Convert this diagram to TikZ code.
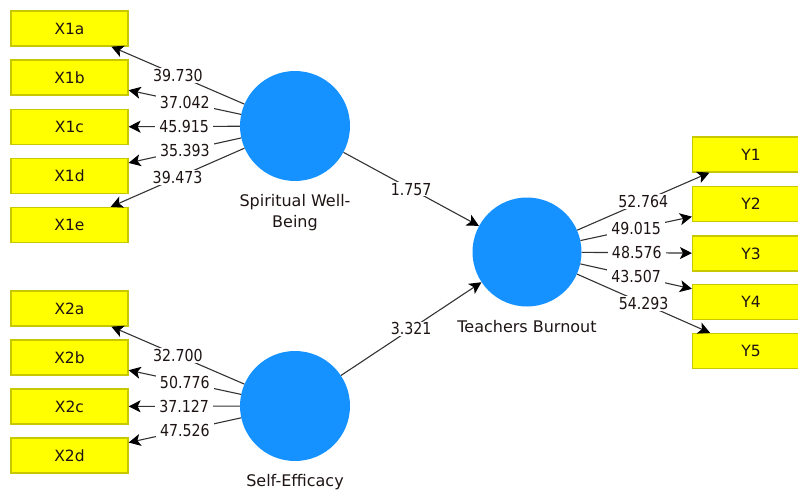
\documentclass[tikz,border=0pt]{standalone}
\usepackage{fontspec}
\setmainfont{DejaVu Sans}
\newfontfamily\numfont[FakeStretch=0.86]{DejaVu Sans}
\usetikzlibrary{arrows.meta}
\definecolor{boxfill}{HTML}{FFFF00}
\definecolor{boxline}{HTML}{C8C800}
\definecolor{circfill}{HTML}{1592FF}
\definecolor{linecol}{HTML}{333333}
\definecolor{txtcol}{HTML}{1E1414}
\tikzset{
  indbox/.style={draw=boxline, fill=boxfill, line width=1.2pt, minimum width=117pt, minimum height=35pt, inner sep=0pt, font=\fontsize{15.5}{18}\selectfont, text=txtcol},
  latent/.style={circle, fill=circfill, draw=none, inner sep=0pt},
  latlbl/.style={font=\fontsize{16}{21}\selectfont, text=txtcol, align=center, inner sep=0pt},
  conn/.style={draw=linecol, line width=1.1pt, -{Stealth[length=12pt,width=12pt,inset=3pt,color=black]}},
  num/.style={fill=white, font=\numfont\fontsize{16.5}{18}\selectfont, text=txtcol, inner xsep=4pt, inner ysep=1pt, midway}
}
\begin{document}
\begin{tikzpicture}[x=1pt,y=-1pt]
\useasboundingbox (0,0) rectangle (798,492);
\begin{scope}
\clip (0,0) rectangle (798,492);
% indicator boxes
\node[indbox] (X1a) at (69.5,28.5) {X1a};
\node[indbox] (X1b) at (69.5,77.5) {X1b};
\node[indbox] (X1c) at (69.5,127) {X1c};
\node[indbox] (X1d) at (69.5,176) {X1d};
\node[indbox] (X1e) at (69.5,225) {X1e};
\node[indbox] (X2a) at (69.5,308.5) {X2a};
\node[indbox] (X2b) at (69.5,357.5) {X2b};
\node[indbox] (X2c) at (69.5,406.5) {X2c};
\node[indbox] (X2d) at (69.5,455.5) {X2d};
\node[indbox] (Y1) at (751,154.5) {Y1};
\node[indbox] (Y2) at (751,204) {Y2};
\node[indbox] (Y3) at (751,253.5) {Y3};
\node[indbox] (Y4) at (751,302) {Y4};
\node[indbox] (Y5) at (751,351) {Y5};
% latent variables
\node[latent, minimum size=110pt] (SWB) at (295,126) {};
\node[latent, minimum size=110pt] (SE) at (295,406) {};
\node[latent, minimum size=109pt] (TB) at (527,252) {};
\node[latlbl] (SWBl) at (295,212.5) {Spiritual Well-\\Being};
\node[latlbl] (SEl) at (295,482) {Self-Efficacy};
\node[latlbl] (TBl) at (527,327) {Teachers Burnout};
% outer loadings
\draw[conn] (SWB) -- node[num]{39.730} (X1a);
\draw[conn] (SWB) -- node[num]{37.042} (X1b);
\draw[conn] (SWB) -- node[num]{45.915} (X1c);
\draw[conn] (SWB) -- node[num]{35.393} (X1d);
\draw[conn] (SWB) -- node[num]{39.473} (X1e);
\draw[conn] (SE) -- node[num]{32.700} (X2a);
\draw[conn] (SE) -- node[num]{50.776} (X2b);
\draw[conn] (SE) -- node[num]{37.127} (X2c);
\draw[conn] (SE) -- node[num]{47.526} (X2d);
\draw[conn] (TB) -- node[num]{52.764} (Y1);
\draw[conn] (TB) -- node[num]{49.015} (Y2);
\draw[conn] (TB) -- node[num]{48.576} (Y3);
\draw[conn] (TB) -- node[num]{43.507} (Y4);
\draw[conn] (TB) -- node[num]{54.293} (Y5);
% structural paths
\draw[conn] (SWB) -- node[num]{1.757} (TB);
\draw[conn] (SE) -- node[num]{3.321} (TB);
\end{scope}
\end{tikzpicture}
\end{document}
